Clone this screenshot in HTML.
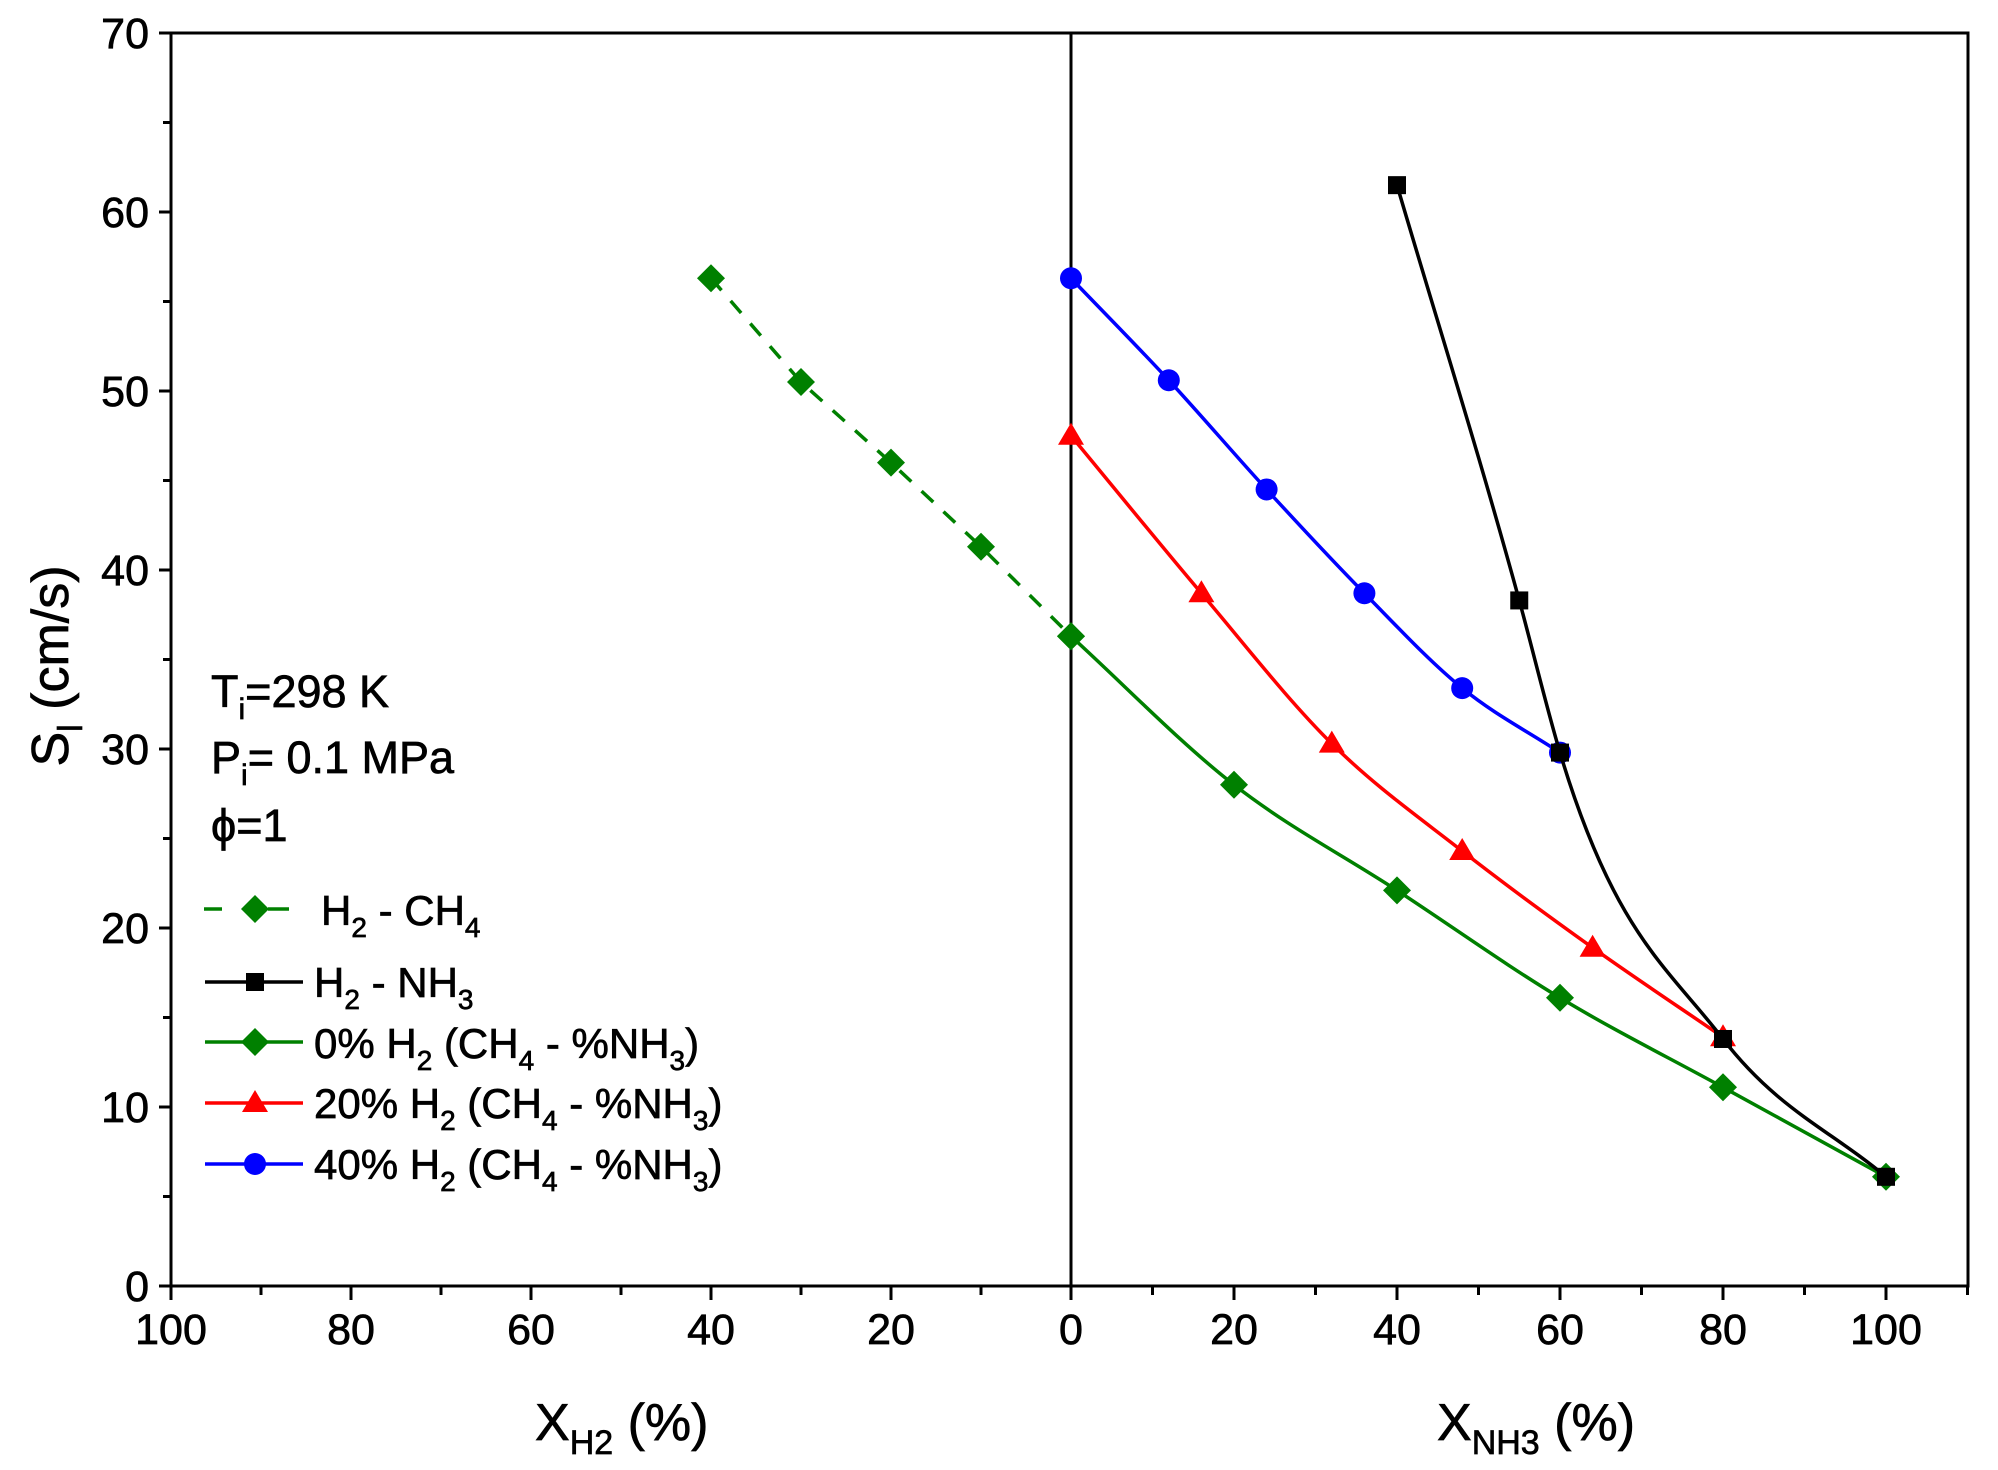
<!DOCTYPE html>
<html><head><meta charset="utf-8"><style>
html,body{margin:0;padding:0;background:#fff;}
svg{display:block;font-family:"Liberation Sans",Arial,sans-serif;}
svg text{stroke:#000;stroke-width:0.7px;}
</style></head><body>
<svg id="chart" width="1998" height="1470" viewBox="0 0 1998 1470" xmlns="http://www.w3.org/2000/svg">
<g id="axes"></g>
<g id="series"></g>
<g id="ann" font-size="45" fill="#000">
 <text x="211" y="707">T<tspan font-size="30" dy="12">i</tspan><tspan dy="-12">=298 K</tspan></text>
 <text x="211" y="773">P<tspan font-size="30" dy="12">i</tspan><tspan dy="-12">= 0.1 MPa</tspan></text>
 <text x="211" y="841">ϕ=1</text>
</g>
<g id="legend" font-size="42"></g>
<g font-size="52">
 <text x="535" y="1440">X<tspan font-size="34" dy="14">H2</tspan><tspan dy="-14"> (%)</tspan></text>
 <text x="1437" y="1440">X<tspan font-size="34" dy="14">NH3</tspan><tspan dy="-14"> (%)</tspan></text>
 <text transform="translate(68,666) rotate(-90)" text-anchor="middle">S<tspan font-size="34" dy="14">l</tspan><tspan dy="-14"> (cm/s)</tspan></text>
</g>
</svg>
<script>
// data
const yTicks = [0,10,20,30,40,50,60,70];
const xLeftTicks = [100,80,60,40,20];
const xRightTicks = [0,20,40,60,80,100];
const h2ch4X = [40,30,20,10,0];
const h2ch4Y = [56.3,50.5,46.0,41.3,36.3];
const h2nh3X = [40,55,60,80,100];
const h2nh3Y = [61.5,38.3,29.8,13.8,6.1];
const h0X = [0,20,40,60,80,100];
const h0Y = [36.3,28.0,22.1,16.1,11.1,6.1];
const h20X = [0,16,32,48,64,80];
const h20Y = [47.5,38.7,30.3,24.3,18.9,13.9];
const h40X = [0,12,24,36,48,60];
const h40Y = [56.3,50.6,44.5,38.7,33.4,29.8];

const NS="http://www.w3.org/2000/svg";
const PX0=1071, PL=171, PR=1968, PT=33, PB=1286;
const yS = v => PB - v*(PB-PT)/70;
const xR = v => PX0 + v*8.15;
const xL = v => PX0 - v*9;
function mk(tag, attrs, parent){const e=document.createElementNS(NS,tag);for(const k in attrs)e.setAttribute(k,attrs[k]);parent.appendChild(e);return e;}
const axesG=document.getElementById('axes'), serG=document.getElementById('series'), legG=document.getElementById('legend');

let fr=mk('rect',{x:PL,y:PT,width:PR-PL,height:PB-PT,fill:'none',stroke:'#000','stroke-width':3},axesG);


let zl=mk('line',{x1:PX0,y1:PT,x2:PX0,y2:PB,stroke:'#000','stroke-width':3},axesG);



for(let v=0; v<=70; v+=5){
  const major = v%10===0;
  let t=mk('line',{x1:PL-(major?12:8),x2:PL,y1:yS(v),y2:yS(v),stroke:'#000','stroke-width':3},axesG);
  
  
}
yTicks.forEach(v=>{
  let t=mk('text',{x:PL-22,y:yS(v)+15,'text-anchor':'end','font-size':43},axesG);
  t.textContent=v;
  
  
});
for(let v=10; v<=100; v+=10){
  const major = v%20===0;
  let t=mk('line',{x1:xL(v),x2:xL(v),y1:PB,y2:PB+(major?14:9),stroke:'#000','stroke-width':3},axesG);
  
  
}
for(let v=0; v<=110; v+=10){
  const major = v%20===0;
  let t=mk('line',{x1:xR(v),x2:xR(v),y1:PB,y2:PB+(major?14:9),stroke:'#000','stroke-width':3},axesG);
  
  
}
xLeftTicks.forEach(v=>{
  let t=mk('text',{x:xL(v),y:PB+58,'text-anchor':'middle','font-size':43},axesG);
  t.textContent=v;
  
  
});
xRightTicks.forEach(v=>{
  let t=mk('text',{x:xR(v),y:PB+58,'text-anchor':'middle','font-size':43},axesG);
  t.textContent=v;
  
  
});

function hermitePath(xs,ys,xf){
  const n=xs.length, d=[], m=[];
  for(let i=0;i<n-1;i++) d.push((ys[i+1]-ys[i])/(xs[i+1]-xs[i]));
  for(let i=0;i<n;i++){
    if(i===0) m.push(d[0]);
    else if(i===n-1) m.push(d[n-2]);
    else { const h0=xs[i]-xs[i-1], h1=xs[i+1]-xs[i]; m.push((d[i-1]*h1+d[i]*h0)/(h0+h1)); }
  }
  let s=`M${xf(xs[0])},${yS(ys[0])}`;
  for(let i=0;i<n-1;i++){
    const h=xs[i+1]-xs[i];
    const cx1=xs[i]+h/3, cy1=ys[i]+m[i]*h/3;
    const cx2=xs[i+1]-h/3, cy2=ys[i+1]-m[i+1]*h/3;
    s+=` C${xf(cx1)},${yS(cy1)} ${xf(cx2)},${yS(cy2)} ${xf(xs[i+1])},${yS(ys[i+1])}`;
  }
  return s;
}
function marker(type,x,y,color,g){
  let e;
  if(type==='diamond') e=mk('polygon',{points:`${x},${y-14} ${x+14},${y} ${x},${y+14} ${x-14},${y}`,fill:color},g);
  else if(type==='square') e=mk('rect',{x:x-9,y:y-9,width:18,height:18,fill:color},g);
  else if(type==='circle') e=mk('circle',{cx:x,cy:y,r:11,fill:color},g);
  else e=mk('polygon',{points:`${x},${y-13} ${x+13},${y+9} ${x-13},${y+9}`,fill:color},g);
  return e;
}
function series(name,xs,ys,xf,color,type,dash,smooth){
  const g=mk('g',{},serG);
  
  
  const pts=xs.map((v,i)=>[xf(v),yS(ys[i])]);
  const d=smooth?hermitePath(xs,ys,xf):'M'+pts.map(p=>p.join(',')).join(' L');
  const p=mk('path',{d:d,fill:'none',stroke:color,'stroke-width':3.5},g);
  if(dash) p.setAttribute('stroke-dasharray','16 14');
  
  
  pts.forEach(q=>{
    const m=marker(type,q[0],q[1],color,g);
    
    
  });
}
series('h2-ch4-series',h2ch4X,h2ch4Y,xL,'#008000','diamond',true,false);
series('h0-series',h0X,h0Y,xR,'#008000','diamond',false,true);
series('h20-series',h20X,h20Y,xR,'#ff0000','triangle',false,true);
series('h40-series',h40X,h40Y,xR,'#0000ff','circle',false,true);
series('h2-nh3-series',h2nh3X,h2nh3Y,xR,'#000','square',false,true);

const legItems=[
 {y:909,ty:925,tx:321,color:'#008000',type:'diamond',dash:true,parts:['H','2',' - CH','4'],name:'legend-entry-h2-ch4'},
 {y:982,ty:997,tx:314,color:'#000',type:'square',parts:['H','2',' - NH','3'],name:'legend-entry-h2-nh3'},
 {y:1042,ty:1058,tx:314,color:'#008000',type:'diamond',parts:['0% H','2',' (CH','4',' - %NH','3',')'],name:'legend-entry-0-h2'},
 {y:1103,ty:1118,tx:314,color:'#ff0000',type:'triangle',parts:['20% H','2',' (CH','4',' - %NH','3',')'],name:'legend-entry-20-h2'},
 {y:1164,ty:1179,tx:314,color:'#0000ff',type:'circle',parts:['40% H','2',' (CH','4',' - %NH','3',')'],name:'legend-entry-40-h2'}
];
legItems.forEach(it=>{
  const g=mk('g',{},legG);
  
  
  if(it.dash){
    mk('line',{x1:204,x2:222,y1:it.y,y2:it.y,stroke:it.color,'stroke-width':3.5},g);
    mk('line',{x1:268,x2:289,y1:it.y,y2:it.y,stroke:it.color,'stroke-width':3.5},g);
  } else mk('line',{x1:205,x2:303,y1:it.y,y2:it.y,stroke:it.color,'stroke-width':3.5},g);
  marker(it.type,255,it.y,it.color,g);
  const t=mk('text',{x:it.tx,y:it.ty},g);
  it.parts.forEach((s,i)=>{
    const sp=mk('tspan',{},t);
    if(i%2===1){sp.setAttribute('font-size','28');sp.setAttribute('dy','12');}
    else if(i>0){sp.setAttribute('dy','-12');}
    sp.textContent=s;
  });
});
</script>
</body></html>
